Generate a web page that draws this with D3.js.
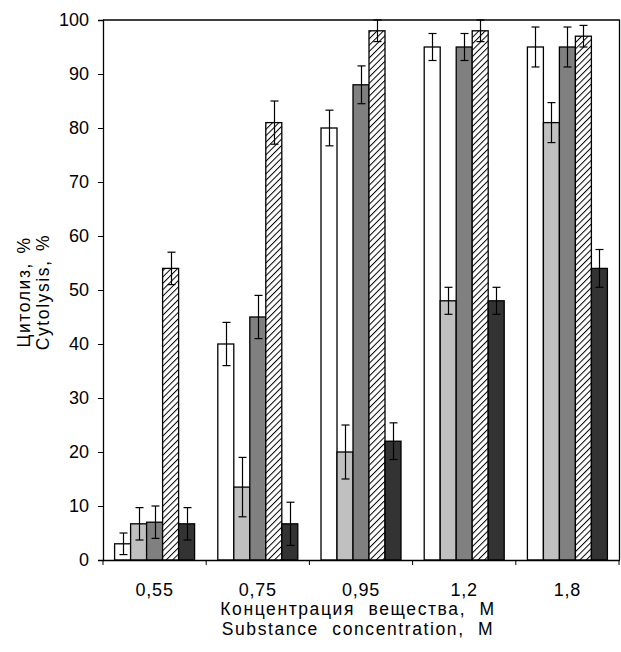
<!DOCTYPE html>
<html><head><meta charset="utf-8">
<script src="https://cdn.jsdelivr.net/npm/d3@7"></script>
<style>
html,body{margin:0;padding:0;background:#fff;}
text{font-family:"Liberation Sans",Arial,sans-serif;fill:#000;}
</style></head>
<body><svg id="c" width="621" height="652"></svg>
<script>
const categories = ["0,55","0,75","0,95","1,2","1,8"];
const seriesNames = ["s1","s2","s3","s4","s5"];
const s1 = [3, 40, 80, 95, 95];
const s2 = [6.7, 13.5, 20, 48, 81];
const s3 = [7, 45, 88, 95, 95];
const s4 = [54, 81, 98, 98, 97];
const s5 = [6.7, 6.7, 22, 48, 54];
const e1 = [2, 4, 3.3, 2.5, 3.7];
const e2 = [3, 5.5, 5, 2.5, 3.7];
const e3 = [3, 4, 3.5, 2.5, 3.7];
const e4 = [3, 4, 2, 2, 2];
const e5 = [3, 4, 3.4, 2.5, 3.5];
const yTicks = [0,10,20,30,40,50,60,70,80,90,100];
const yTitle = ["Цитолиз, %","Cytolysis, %"];
const xTitle = ["Концентрация вещества, М","Substance concentration, M"];

const values = [s1,s2,s3,s4,s5];
const errors = [e1,e2,e3,e4,e5];
const fills = ["#ffffff","#c0c0c0","#808080","url(#hatch)","#333333"];

const svg = d3.select("#c");
const M = {l:103, r:619, t:20, b:560};
const FS = "18px";

const defs = svg.append("defs");
const pat = defs.append("pattern").attr("id","hatch").attr("patternUnits","userSpaceOnUse")
  .attr("width",4.5).attr("height",4.5).attr("patternTransform","rotate(45)");
pat.append("rect").attr("width",4.5).attr("height",4.5).attr("fill","#fff");
pat.append("line").attr("x1",0).attr("y1",0).attr("x2",0).attr("y2",4.5).attr("stroke","#000").attr("stroke-width",2);

const x = d3.scaleBand().domain(categories).range([M.l, M.r]).paddingInner(0).paddingOuter(0);
const xs = d3.scaleBand().domain(seriesNames).range([0, x.bandwidth()]).paddingInner(0).paddingOuter(0.725);
const y = d3.scaleLinear().domain([0,100]).range([M.b, M.t]);

// frame
svg.append("line").attr("x1",M.l).attr("x2",M.r+1).attr("y1",y(100)).attr("y2",y(100)).attr("stroke","#000").attr("stroke-width",1.3);
svg.append("line").attr("x1",M.r+0.5).attr("x2",M.r+0.5).attr("y1",y(100)).attr("y2",M.b).attr("stroke","#000").attr("stroke-width",1.3);

// bars
const g = svg.append("g");
categories.forEach((c,i)=>{
  seriesNames.forEach((s,j)=>{
    const v = values[j][i];
    g.append("rect")
      .attr("x", x(c)+xs(s)).attr("width", xs.bandwidth())
      .attr("y", y(v)).attr("height", y(0)-y(v))
      .attr("fill", fills[j]).attr("stroke","#000").attr("stroke-width",1.3);
  });
});
// error bars
const eg = svg.append("g").attr("stroke","#000").attr("stroke-width",1.2);
categories.forEach((c,i)=>{
  seriesNames.forEach((s,j)=>{
    const v = values[j][i], e = errors[j][i];
    const cx = Math.round(x(c)+xs(s)+xs.bandwidth()/2)+0.5;
    eg.append("line").attr("x1",cx).attr("x2",cx).attr("y1",y(v-e)).attr("y2",y(v+e));
    eg.append("line").attr("x1",cx-4).attr("x2",cx+4).attr("y1",y(v+e)).attr("y2",y(v+e));
    eg.append("line").attr("x1",cx-4).attr("x2",cx+4).attr("y1",y(v-e)).attr("y2",y(v-e));
  });
});

// axes
const yAxis = d3.axisLeft(y).tickValues(yTicks).tickSize(5).tickPadding(9);
const ya = svg.append("g").attr("transform",`translate(${M.l},0)`).call(yAxis);
ya.select(".domain").attr("stroke-width",1.3);
ya.selectAll("text").style("font-size",FS).style("font-family","Liberation Sans, Arial, sans-serif");

const xBounds = d3.range(categories.length+1).map(i=>M.l + i*x.step());
const xa = svg.append("g").attr("transform",`translate(0,${M.b})`);
xa.append("line").attr("x1",M.l).attr("x2",M.r+1).attr("y1",0.5).attr("y2",0.5).attr("stroke","#000").attr("stroke-width",1.3);
xa.selectAll(".tk").data(xBounds).enter().append("line")
  .attr("x1",d=>d).attr("x2",d=>d).attr("y1",0).attr("y2",5).attr("stroke","#000");
xa.selectAll(".lb").data(categories).enter().append("text")
  .attr("x",d=>x(d)+x.bandwidth()/2).attr("y",35.5).attr("text-anchor","middle")
  .style("font-size",FS).style("letter-spacing","0.8px").text(d=>d);

const tstyle = s => s.style("font-size","17.5px").style("letter-spacing","1.6px").style("word-spacing","7px");
svg.append("text").attr("x",(M.l+M.r)/2-3).attr("y",615).attr("text-anchor","middle").call(tstyle).text(xTitle[0]);
svg.append("text").attr("x",(M.l+M.r)/2-3).attr("y",634.7).attr("text-anchor","middle").call(tstyle).text(xTitle[1]);

const ystyle = s => s.style("font-size","17.5px").style("letter-spacing","1.6px").style("word-spacing","2px");
svg.append("text").attr("transform","translate(30,292) rotate(-90)").attr("text-anchor","middle").call(ystyle).text(yTitle[0]);
svg.append("text").attr("transform","translate(49,292) rotate(-90)").attr("text-anchor","middle").call(ystyle).text(yTitle[1]);
</script></body></html>
